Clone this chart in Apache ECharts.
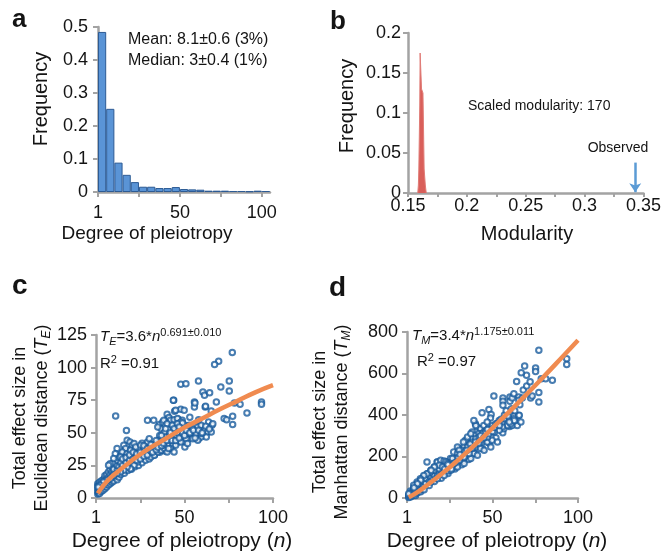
<!DOCTYPE html>
<html>
<head>
<meta charset="utf-8">
<script src="https://cdn.jsdelivr.net/npm/echarts@6/dist/echarts.min.js"></script>
<style>
  html, body { margin: 0; padding: 0; background: #fff; }
  #chart { width: 664px; height: 557px; }
</style>
</head>
<body>
<div id="chart"></div>
<script>
var FONT = '"Liberation Sans", Arial, sans-serif';

// a: degree of pleiotropy histogram (bins of 5, starting at 1)
var pleioBins = ['1-5','6-10','11-15','16-20','21-25','26-30','31-35','36-40','41-45','46-50',
                 '51-55','56-60','61-65','66-70','71-75','76-80','81-85','86-90','91-95','96-100','101-105'];
var pleioFreq = [0.485, 0.252, 0.089, 0.052, 0.030, 0.016, 0.016, 0.012, 0.012, 0.015,
                 0.009, 0.008, 0.007, 0.004, 0.004, 0.004, 0.003, 0.003, 0.002, 0.004, 0.003];
var pleioTickPos = [0, 10, 20];
var pleioTickText = ['1', '50', '100'];

// b: null distribution of modularity
var modX    = [0.1583, 0.1588, 0.1592, 0.1597, 0.1600, 0.1603, 0.1613, 0.1615, 0.1627, 0.1632, 0.1637, 0.1647, 0.1655];
var modFreq = [0,      0.010,  0.030,  0.080,  0.110,  0.175,  0.175,  0.130,  0.125,  0.080,  0.030,  0.010,  0];
var observedModularity = 0.343;

// c: Euclidean total effect size vs degree of pleiotropy
var euclideanPoints = [
  [1,3],[1,5],[1,7],[1,9],[1,11],[1.5,4],[1.5,6],[1.5,8],[1.5,10],[2,3.5],[2,5.5],[2,7.5],[2,10],[2,12],
  [3,5],[3,7],[3,9],[3,11],[3,13],[4,6],[4,8],[4,10],[4,12],[4,14],[5,7],[5,9],[5,11],[5,13],[5,15],[5,17],
  [6,8.5],[6,10.5],[6,12.5],[6,15],[6,18],[7,10],[7,12],[7,14],[7,16],[7,20],[8,11],[8,13],[8,15],[8,18],[8,22],
  [9,12],[9,14],[9,17],[9,20],[9,24],[10,13],[10,16],[10,19],[10,22],[10,27],[12,14],[12,17],[12,21],[12,25],[12,29],
  [13,16],[13,19],[13,24],[13,31],[14,18],[14,22],[14,27],[14,33],[16,19],[16,24],[16,30],[16,36],[18,21],[18,26],[18,32],
  [20,22],[20,28],[20,34],[20,38],[22,24],[22,30],[22,36],[24,25],[24,32],[24,38],[26,27],[26,34],[26,42],[28,29],[28,36],
  [30,30],[30,38],[30,42],[33,33],[33,39],[36,35],[36,45],[36,48],[39,36],[39,42],
  [11.1,62.9],[17.2,51.7],[43.9,74.9],[55.6,73.7],[55.6,69.8],[44.4,66.5],[47.9,68.0],[49.8,67.3],[29.1,59.6],[32.6,59.6],[61.7,69.8],
  [35.8,56.3],[37.7,58.3],[39.7,59.6],[41.0,61.4],[42.5,57.0],[44.4,58.8],[46.4,60.4],[47.3,57.0],[48.7,59.6],[43.5,54.5],
  [45.4,54.5],[47.9,54.5],[50.2,55.8],[52.1,53.2],[54.0,53.7],[55.9,55.2],[57.9,50.6],[59.8,54.5],[36.8,53.2],[38.7,50.6],[34.9,54.5],
  [17.6,44.2],[19.2,43.0],[20.5,40.4],[21.5,41.7],[15.7,40.4],[16.7,37.9],[14.8,35.3],[11.9,37.9],[10.9,34.0],[10.0,30.2],
  [8.0,26.3],[7.1,25.1],[13.8,31.5],[17.6,34.0],[19.5,36.6],[22.4,39.1],[25.3,40.4],[27.2,37.9],[29.1,43.0],[30.1,45.5],
  [32.0,40.4],[33.9,41.7],[35.8,43.0],[37.7,45.5],[39.7,46.8],[41.6,48.1],[42.9,45.5],[45.4,48.1],[29.1,35.3],[31.0,31.5],
  [33.0,32.7],[34.9,35.3],[36.8,36.6],[38.7,37.9],[40.6,40.4],[43.5,40.4],[46.4,43.0],[48.3,45.5],[50.2,43.0],[52.1,45.5],
  [54.0,48.1],[55.9,49.4],[57.9,45.5],[59.4,46.8],[50.2,39.1],[25.3,31.5],[23.4,27.6],[21.5,25.1],[19.5,22.5],[17.6,23.8],
  [15.7,21.2],[13.8,19.9],[11.9,18.7],[10.0,17.4],[8.0,14.8],[6.1,13.6],[4.2,12.3],[2.3,9.7],[1.3,8.4],
  [47.9,87.2],[50.8,87.7],[57.9,89.8],[70.5,85.2],[75.3,82.1],[75.3,89.8],[60.4,81.3],[61.3,78.8],[64.2,80.8],[68.0,73.7],
  [43.7,75.0],[55.9,72.9],[61.9,70.4],[65.1,66.8],[78.2,72.9],[81.4,71.9],[93.5,73.7],[93.5,71.9],[85.3,65.2],[72.4,60.9],
  [73.8,60.1],[77.2,62.7],[77.2,56.3],[40.2,64.2],[41.2,61.7],[45.0,67.3],[38.3,59.6],[42.1,59.6],[44.1,60.1],[46.0,60.9],
  [47.9,58.3],[40.2,57.0],[43.1,55.8],[46.0,57.0],[48.9,57.6],[39.3,53.2],[44.1,53.2],[47.0,54.5],[52.7,55.8],[54.6,53.2],
  [57.5,54.5],[59.4,55.8],[61.3,51.9],[63.2,50.7],[65.1,50.7],[53.6,49.4],[56.5,49.4],[59.4,49.4],[62.3,46.8],[50.8,45.5],
  [54.6,45.5],[57.5,44.3],[47.9,43.0],[51.7,41.7],[45.0,40.4],[42.1,37.9],[40.2,35.3],[44.1,35.3],[38.3,40.4],
  [77,111.5],[69.3,104.9],[67,102.3],[63.6,58.3],[65.5,55.8],
  [15,25],[15,30],[17,27],[17,31],[19,29],[19,33],[21,30],[21,35],[23,29],[23,34],[25,35],[25,30],[27,32],[27,40],
  [29,33],[29,38],[31,36],[31,41],[32,35],[34,37],[34,44],[35,39],[37,40],[37,48],[38,42],[40,44],[41,38],[42,50],
  [43,44],[45,44],[46,50],[47,46],[49,50],[50,48],[51,52],[53,50],[55,52],[56,46],[58,52],[60,50],[62,55],[64,53],
  [66,57],[58,60],[53,62]
];
var fitN = [1, 5, 10, 20, 30, 40, 50, 60, 70, 80, 90, 100];
var fitEuclid = [3.6, 11, 17.6, 28.5, 38, 46, 54, 61, 68, 74.5, 81, 86.5];

// d: Manhattan total effect size vs degree of pleiotropy
var manhattanPoints = [
  [1,3],[1,8],[1,13],[2,5],[2,12],[2,20],[2,34],[3,10],[3,20],[3,30],[4,15],[4,28],[4,40],[4,50],[5,12],[5,20],[5,35],[5,50],
  [6,25],[6,45],[6,60],[6,69],[7,30],[7,55],[7,70],[8,30],[8,40],[8,65],[8,85],[9,45],[9,75],[9,95],[10,40],[10,61],[10,80],[10,105],
  [11,70],[11,95],[12,117],[13,60],[13,80],[13,110],[14,100],[14,134],[15,90],[15,120],[16,80],[16,110],[16,150],[17,95],[17,130],
  [18,110],[18,140],[19,120],[19,150],[20,95],[20,115],[20,135],[21,130],[22,125],[22,150],[23,140],[24,118],[24,130],[24,155],
  [25,145],[26,150],[26,175],[27,160],[28,140],[28,150],[28,185],[30,170],[31,195],[32,160],[32,180],[36,185],[40,215],[44,240],
  [48,265],[52,290],[56,315],[60,345],
  [77.1,712],[93.4,671],[93.4,643],[75.2,626],[75.2,610],[68.8,636],[69.9,591],[66.8,604],[64.1,562],[78.5,575],[81.1,575],
  [85.0,567],[77.1,508],[77.1,463],[72.3,482],[73.2,491],[50.8,491],[56.1,482],[56.1,466],[56.1,447],[60.2,487],[60.2,466],
  [61.5,482],[62.5,503],[65.4,487],[65.4,471],[67.4,482],[43.9,411],[47.9,427],[49.2,402],[48.8,385],[60.5,402],[62.5,395],
  [65.4,398],[62.5,382],[63.5,366],[59.6,374],[58.6,358],[61.5,350],[64.5,350],
  [40.0,358],[41.0,342],[43.0,334],[44.9,350],[46.9,366],[38.1,318],[40.0,302],[42.0,310],[44.9,318],[46.9,302],[48.8,318],
  [50.8,334],[52.7,350],[54.7,342],[56.6,334],[38.1,286],[41.0,278],[43.9,270],[46.9,270],[49.8,278],[36.1,262],[34.2,278],
  [33.2,246],[37.1,238],[40.0,246],[43.0,238],[30.3,238],[32.2,214],[35.2,206],[39.1,214],[27.3,222],[29.3,198],[33.2,190],
  [25.4,190],[26.4,173],[29.3,165],[23.4,173],[21.5,157],[17.6,173],[11.7,173],[18.6,141],[15.6,133],[13.7,125],[11.7,117],
  [9.8,109],[7.8,93],[5.9,77],[3.9,61],[1.0,21],
  [17.8,174],[19.7,182],[21.7,178],[22.7,174],[18.8,158],[20.7,150],[16.0,150],[14.1,134],[8.0,85],[6.1,69],[4.1,50],
  [13.9,77],[17.8,93],[21.7,109],[25.6,134],[29.5,150],[33.4,166],[37.3,190],[41.2,206],[45.1,230],[49.0,246],[52.9,270],
  [23.6,166],[26.6,190],[29.5,214],[32.4,230],[35.4,246],[38.3,270],[40.2,286],[42.2,294],[44.1,310],[46.1,318],[48.0,334],
  [50.0,350],[52.0,358],[53.9,374],[56.8,382],[58.8,350],[60.7,358],[62.7,374],[55.7,342],[53.9,326],[51.0,318],[47.1,294],
  [43.2,278],[39.3,254],[36.3,214],[33.4,198],[30.5,182],[27.5,166],[33.0,270],[29.5,246],[30.5,230],[35.4,294],[40.2,350],
  [39.1,374],[37.3,310],[65.6,399],[59.8,366],[66.6,366],
  [22,140],[24,160],[26,140],[28,170],[30,195],[31,210],[34,225],[35,230],[37,260],[38,240],[40,270],[42,265],[43,300],
  [45,290],[47,330],[48,310],[50,320],[51,340],[53,360],[54,350],[55,380],[57,400],[58,420],[59,395],[61,430],[63,420],
  [66,450],[68,520],[70,540],[72,560]
];
var fitManhattan = [3.4, 22, 51, 114, 184, 259, 337, 417, 500, 585, 672, 760];

var AXIS_GREY = '#a3a3a3';
var INK = '#141414';
var TICK_FONT = 18;

function baseAxis(extra) {
    var ax = {
        axisLine: { show: true, onZero: false, lineStyle: { color: AXIS_GREY, width: 2.5 } },
        axisTick: { show: true, length: 5, lineStyle: { color: AXIS_GREY, width: 2 } },
        axisLabel: { color: INK, fontSize: TICK_FONT, fontFamily: FONT },
        splitLine: { show: false }
    };
    for (var k in extra) {
        if (typeof extra[k] === 'object' && ax[k] && !Array.isArray(extra[k])) {
            for (var j in extra[k]) ax[k][j] = extra[k][j];
        } else {
            ax[k] = extra[k];
        }
    }
    return ax;
}

function txt(x, y, text, size, opts) {
    opts = opts || {};
    return {
        type: 'text', x: x, y: y, rotation: opts.rotation || 0, silent: true,
        style: {
            text: text, fill: INK, font: (opts.bold ? 'bold ' : '') + size + 'px ' + FONT,
            align: opts.align || 'left', textAlign: opts.align || 'left',
            verticalAlign: 'middle', textVerticalAlign: 'middle',
            lineHeight: opts.lineHeight, rich: opts.rich
        }
    };
}

var formulaRich = {
    it: { fontStyle: 'italic', fontSize: 15, fontFamily: FONT, lineHeight: 20, color: INK },
    t: { fontSize: 15, fontFamily: FONT, lineHeight: 20, color: INK },
    sub: { fontStyle: 'italic', fontSize: 11, fontFamily: FONT, lineHeight: 13, verticalAlign: 'bottom', color: INK },
    sup: { fontSize: 11, fontFamily: FONT, lineHeight: 11, verticalAlign: 'top', color: INK }
};
var titleRich = {
    it: { fontStyle: 'italic', fontSize: 18, fontFamily: FONT, lineHeight: 22, color: INK },
    sub: { fontStyle: 'italic', fontSize: 12, fontFamily: FONT, lineHeight: 14, verticalAlign: 'bottom', color: INK }
};
var nRich = {
    it: { fontStyle: 'italic', fontSize: 21, fontFamily: FONT, color: INK }
};

function pleioLabel(v) { return v === 0 ? '1' : (v % 50 === 0 ? String(v) : ''); }

var myChart = echarts.init(document.getElementById('chart'), null, { renderer: 'canvas' });

option = {
    animation: false,
    backgroundColor: '#fff',
    grid: [
        { left: 98, top: 27, width: 172, height: 165 },
        { left: 408, top: 33, width: 239, height: 160 },
        { left: 96, top: 335, width: 177, height: 163 },
        { left: 407, top: 332, width: 171, height: 166 }
    ],
    xAxis: [
        baseAxis({
            gridIndex: 0, type: 'value', min: 0, max: pleioBins.length,
            axisTick: { customValues: [0, 5, 10, 15, 20] },
            axisLabel: {
                margin: 12, customValues: pleioTickPos,
                formatter: function (v) { var i = pleioTickPos.indexOf(v); return i >= 0 ? pleioTickText[i] : ''; }
            }
        }),
        baseAxis({
            gridIndex: 1, type: 'value', min: 0.15, max: 0.35, interval: 0.025,
            axisTick: { length: 4 },
            axisLabel: {
                margin: 4,
                formatter: function (v) { return Math.round(v * 1000) % 50 === 0 ? String(+v.toFixed(3)) : ''; }
            }
        }),
        baseAxis({ gridIndex: 2, type: 'value', min: 0, max: 100, interval: 25, axisLabel: { margin: 11, formatter: pleioLabel } }),
        baseAxis({ gridIndex: 3, type: 'value', min: 0, max: 100, interval: 25, axisLabel: { margin: 11, formatter: pleioLabel } })
    ],
    yAxis: [
        baseAxis({ gridIndex: 0, type: 'value', min: 0, max: 0.5, interval: 0.1, axisLabel: { margin: 10 } }),
        baseAxis({ gridIndex: 1, type: 'value', min: 0, max: 0.2, interval: 0.05, axisLabel: { margin: 7 } }),
        baseAxis({ gridIndex: 2, type: 'value', min: 0, max: 125, interval: 25, axisLabel: { margin: 9 } }),
        baseAxis({ gridIndex: 3, type: 'value', min: 0, max: 800, interval: 200, axisLabel: { margin: 9 } })
    ],
    series: [
        {
            type: 'bar', xAxisIndex: 0, yAxisIndex: 0,
            data: pleioFreq.map(function (f, i) { return [i + 0.5, f]; }),
            barWidth: 8.2,
            itemStyle: { color: '#5a94d6', borderColor: '#2d5b94', borderWidth: 1 }
        },
        {
            type: 'line', xAxisIndex: 1, yAxisIndex: 1,
            data: modX.map(function (x, i) { return [x, modFreq[i]]; }),
            symbol: 'none',
            lineStyle: { color: '#e07c77', width: 1 },
            areaStyle: { color: '#d95f5a', opacity: 1 },
            markLine: {
                silent: true, animation: false,
                symbol: ['none', 'arrow'], symbolSize: 9,
                label: { show: false },
                lineStyle: { color: '#5b9bd5', width: 2.5, type: 'solid' },
                data: [[{ coord: [observedModularity, 0.038] }, { coord: [observedModularity, 0.001] }]]
            }
        },
        {
            type: 'scatter', xAxisIndex: 2, yAxisIndex: 2,
            data: euclideanPoints,
            symbol: 'emptyCircle', symbolSize: 5.5,
            itemStyle: { color: '#1a5c9e', borderWidth: 2 }
        },
        {
            type: 'line', xAxisIndex: 2, yAxisIndex: 2, z: 5,
            data: fitN.map(function (n, i) { return [n, fitEuclid[i]]; }),
            smooth: true, symbol: 'none',
            lineStyle: { color: '#f08b50', width: 4.5 }
        },
        {
            type: 'scatter', xAxisIndex: 3, yAxisIndex: 3,
            data: manhattanPoints,
            symbol: 'emptyCircle', symbolSize: 5.5,
            itemStyle: { color: '#1a5c9e', borderWidth: 2 }
        },
        {
            type: 'line', xAxisIndex: 3, yAxisIndex: 3, z: 5,
            data: fitN.map(function (n, i) { return [n, fitManhattan[i]]; }),
            smooth: true, symbol: 'none',
            lineStyle: { color: '#f08b50', width: 4.5 }
        }
    ],
    graphic: [
        txt(12, 20, 'a', 26, { bold: true }),
        txt(330, 22, 'b', 26, { bold: true }),
        txt(12, 286, 'c', 28, { bold: true }),
        txt(329, 288, 'd', 28, { bold: true }),

        txt(128, 40, 'Mean: 8.1±0.6 (3%)', 16),
        txt(128, 61, 'Median: 3±0.4 (1%)', 16),
        txt(41, 99, 'Frequency', 20, { align: 'center', rotation: Math.PI / 2 }),
        txt(147, 234, 'Degree of pleiotropy', 19, { align: 'center' }),

        txt(468, 106, 'Scaled modularity: 170', 14),
        txt(618, 148, 'Observed', 14, { align: 'center' }),
        txt(347, 106, 'Frequency', 20, { align: 'center', rotation: Math.PI / 2 }),
        txt(527, 234, 'Modularity', 20, { align: 'center' }),

        txt(100, 337, '{it|T}{sub|E}{t|=3.6*}{it|n}{sup|0.691±0.010}', 15, { rich: formulaRich }),
        txt(100, 364, '{t|R}{sup|2}{t| =0.91}', 15, { rich: formulaRich }),
        txt(31, 418, 'Total effect size in\nEuclidean distance ({it|T}{sub|E})', 18,
            { align: 'center', rotation: Math.PI / 2, lineHeight: 22, rich: titleRich }),
        txt(182, 541, 'Degree of pleiotropy ({it|n})', 21, { align: 'center', rich: nRich }),

        txt(412, 336, '{it|T}{sub|M}{t|=3.4*}{it|n}{sup|1.175±0.011}', 15, { rich: formulaRich }),
        txt(417, 362, '{t|R}{sup|2}{t| =0.97}', 15, { rich: formulaRich }),
        txt(331, 422, 'Total effect size in\nManhattan distance ({it|T}{sub|M})', 18,
            { align: 'center', rotation: Math.PI / 2, lineHeight: 22, rich: titleRich }),
        txt(497, 541, 'Degree of pleiotropy ({it|n})', 21, { align: 'center', rich: nRich })
    ]
};

myChart.setOption(option);
</script>
</body>
</html>
